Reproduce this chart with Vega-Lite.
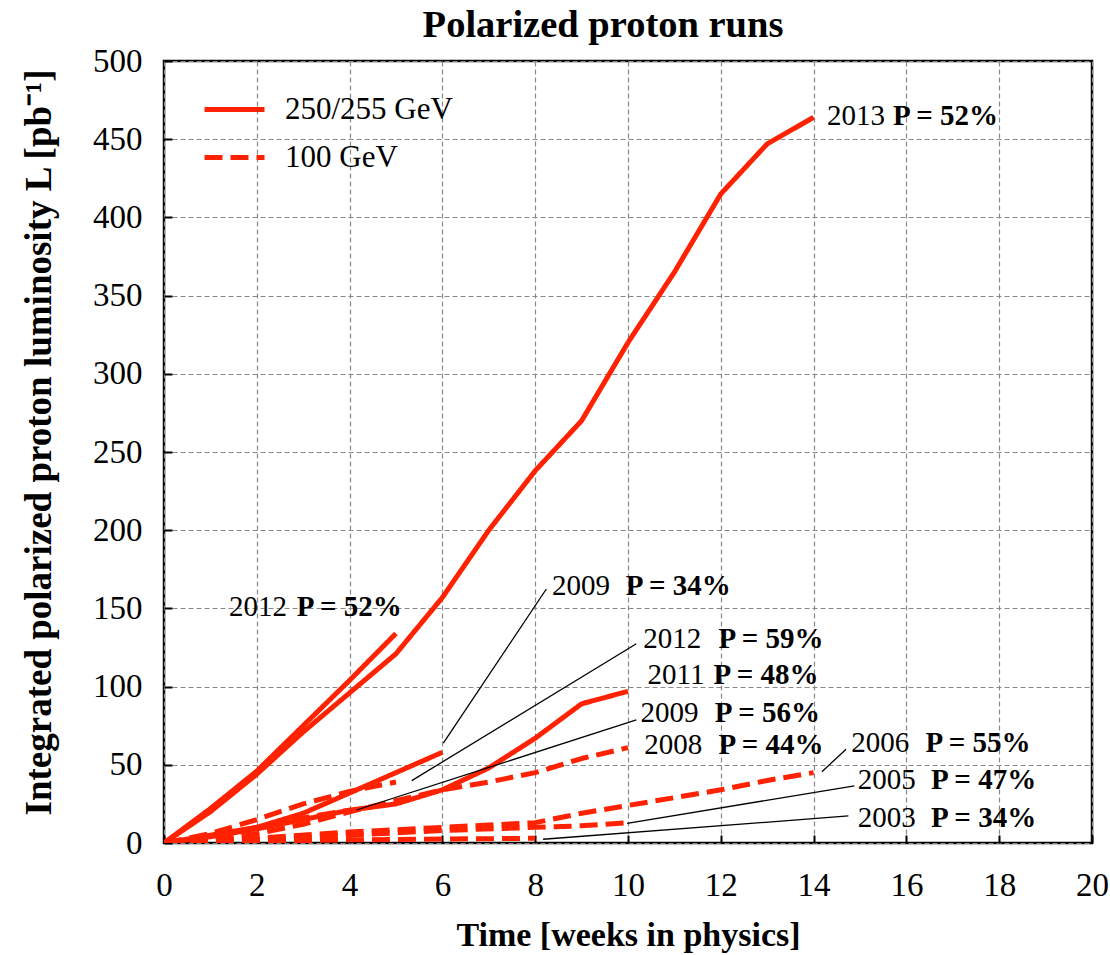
{
  "$schema": "https://vega.github.io/schema/vega-lite/v6.json",
  "width": 928,
  "height": 782,
  "autosize": "none",
  "padding": {"left": 164, "top": 61, "right": 18, "bottom": 112},
  "background": "white",
  "title": {"text": "Polarized proton runs", "font": "Liberation Serif", "fontSize": 38.5, "fontWeight": "bold", "color": "black", "anchor": "middle", "dx": -25, "offset": 0},
  "config": {
    "view": {"stroke": "black", "strokeWidth": 2.5},
    "axis": {"labelFont": "Liberation Serif", "titleFont": "Liberation Serif", "labelColor": "black", "titleColor": "black", "grid": true, "gridDash": [5, 3], "gridColor": "#8a8a8a", "gridWidth": 1.2, "domain": false, "tickColor": "black", "tickWidth": 2}
  },
  "datasets": {
    "runs": [
      {"run": "2013", "energy": "250/255 GeV", "week": 0, "L": 0},
      {"run": "2013", "energy": "250/255 GeV", "week": 1, "L": 20},
      {"run": "2013", "energy": "250/255 GeV", "week": 2, "L": 44},
      {"run": "2013", "energy": "250/255 GeV", "week": 3, "L": 71},
      {"run": "2013", "energy": "250/255 GeV", "week": 4, "L": 96},
      {"run": "2013", "energy": "250/255 GeV", "week": 5, "L": 121},
      {"run": "2013", "energy": "250/255 GeV", "week": 6, "L": 157},
      {"run": "2013", "energy": "250/255 GeV", "week": 7, "L": 200},
      {"run": "2013", "energy": "250/255 GeV", "week": 8, "L": 238},
      {"run": "2013", "energy": "250/255 GeV", "week": 9, "L": 270},
      {"run": "2013", "energy": "250/255 GeV", "week": 10, "L": 320},
      {"run": "2013", "energy": "250/255 GeV", "week": 11, "L": 365},
      {"run": "2013", "energy": "250/255 GeV", "week": 12, "L": 415},
      {"run": "2013", "energy": "250/255 GeV", "week": 13, "L": 447},
      {"run": "2013", "energy": "250/255 GeV", "week": 14, "L": 464},
      {"run": "2012a", "energy": "250/255 GeV", "week": 0, "L": 0},
      {"run": "2012a", "energy": "250/255 GeV", "week": 1, "L": 22},
      {"run": "2012a", "energy": "250/255 GeV", "week": 2, "L": 46},
      {"run": "2012a", "energy": "250/255 GeV", "week": 3, "L": 75},
      {"run": "2012a", "energy": "250/255 GeV", "week": 4, "L": 104},
      {"run": "2012a", "energy": "250/255 GeV", "week": 5, "L": 134},
      {"run": "2009a", "energy": "250/255 GeV", "week": 0, "L": 0},
      {"run": "2009a", "energy": "250/255 GeV", "week": 1, "L": 5},
      {"run": "2009a", "energy": "250/255 GeV", "week": 2, "L": 10},
      {"run": "2009a", "energy": "250/255 GeV", "week": 3, "L": 19},
      {"run": "2009a", "energy": "250/255 GeV", "week": 4, "L": 32},
      {"run": "2009a", "energy": "250/255 GeV", "week": 5, "L": 45},
      {"run": "2009a", "energy": "250/255 GeV", "week": 6, "L": 58},
      {"run": "2011", "energy": "250/255 GeV", "week": 0, "L": 0},
      {"run": "2011", "energy": "250/255 GeV", "week": 1, "L": 4},
      {"run": "2011", "energy": "250/255 GeV", "week": 2, "L": 9},
      {"run": "2011", "energy": "250/255 GeV", "week": 3, "L": 15},
      {"run": "2011", "energy": "250/255 GeV", "week": 4, "L": 21},
      {"run": "2011", "energy": "250/255 GeV", "week": 5, "L": 25},
      {"run": "2011", "energy": "250/255 GeV", "week": 6, "L": 34},
      {"run": "2011", "energy": "250/255 GeV", "week": 7, "L": 48},
      {"run": "2011", "energy": "250/255 GeV", "week": 8, "L": 67},
      {"run": "2011", "energy": "250/255 GeV", "week": 9, "L": 89},
      {"run": "2011", "energy": "250/255 GeV", "week": 10, "L": 97},
      {"run": "2012b", "energy": "100 GeV", "week": 0, "L": 0},
      {"run": "2012b", "energy": "100 GeV", "week": 1, "L": 6},
      {"run": "2012b", "energy": "100 GeV", "week": 2, "L": 15},
      {"run": "2012b", "energy": "100 GeV", "week": 3, "L": 25},
      {"run": "2012b", "energy": "100 GeV", "week": 4, "L": 33},
      {"run": "2012b", "energy": "100 GeV", "week": 5, "L": 39},
      {"run": "2009b", "energy": "100 GeV", "week": 0, "L": 0},
      {"run": "2009b", "energy": "100 GeV", "week": 1, "L": 4},
      {"run": "2009b", "energy": "100 GeV", "week": 2, "L": 10},
      {"run": "2009b", "energy": "100 GeV", "week": 3, "L": 16},
      {"run": "2009b", "energy": "100 GeV", "week": 4, "L": 21},
      {"run": "2008", "energy": "100 GeV", "week": 0, "L": 0},
      {"run": "2008", "energy": "100 GeV", "week": 1, "L": 2},
      {"run": "2008", "energy": "100 GeV", "week": 2, "L": 6},
      {"run": "2008", "energy": "100 GeV", "week": 3, "L": 12},
      {"run": "2008", "energy": "100 GeV", "week": 4, "L": 20},
      {"run": "2008", "energy": "100 GeV", "week": 5, "L": 27},
      {"run": "2008", "energy": "100 GeV", "week": 6, "L": 34},
      {"run": "2008", "energy": "100 GeV", "week": 7, "L": 39},
      {"run": "2008", "energy": "100 GeV", "week": 8, "L": 45},
      {"run": "2008", "energy": "100 GeV", "week": 9, "L": 54},
      {"run": "2008", "energy": "100 GeV", "week": 10, "L": 61},
      {"run": "2006", "energy": "100 GeV", "week": 0, "L": 0},
      {"run": "2006", "energy": "100 GeV", "week": 2, "L": 3},
      {"run": "2006", "energy": "100 GeV", "week": 4, "L": 7},
      {"run": "2006", "energy": "100 GeV", "week": 6, "L": 10},
      {"run": "2006", "energy": "100 GeV", "week": 8, "L": 13},
      {"run": "2006", "energy": "100 GeV", "week": 9, "L": 19},
      {"run": "2006", "energy": "100 GeV", "week": 10, "L": 24},
      {"run": "2006", "energy": "100 GeV", "week": 11, "L": 29},
      {"run": "2006", "energy": "100 GeV", "week": 12, "L": 34},
      {"run": "2006", "energy": "100 GeV", "week": 13, "L": 40},
      {"run": "2006", "energy": "100 GeV", "week": 14, "L": 45},
      {"run": "2005", "energy": "100 GeV", "week": 0, "L": 0},
      {"run": "2005", "energy": "100 GeV", "week": 2, "L": 2},
      {"run": "2005", "energy": "100 GeV", "week": 4, "L": 5},
      {"run": "2005", "energy": "100 GeV", "week": 6, "L": 8},
      {"run": "2005", "energy": "100 GeV", "week": 8, "L": 10},
      {"run": "2005", "energy": "100 GeV", "week": 9, "L": 11},
      {"run": "2005", "energy": "100 GeV", "week": 10, "L": 13},
      {"run": "2003", "energy": "100 GeV", "week": 0, "L": 0},
      {"run": "2003", "energy": "100 GeV", "week": 2, "L": 1},
      {"run": "2003", "energy": "100 GeV", "week": 4, "L": 2},
      {"run": "2003", "energy": "100 GeV", "week": 6, "L": 2.5},
      {"run": "2003", "energy": "100 GeV", "week": 8, "L": 3}
    ],
    "labels": [
      {"year": "2013", "p": "P = 52%", "x": 14.29, "px": 15.71, "y": 465},
      {"year": "2012", "p": "P = 52%", "x": 1.40, "px": 2.86, "y": 151},
      {"year": "2009", "p": "P = 34%", "x": 8.36, "px": 9.95, "y": 164.5},
      {"year": "2012", "p": "P = 59%", "x": 10.33, "px": 11.95, "y": 130.6},
      {"year": "2011", "p": "P = 48%", "x": 10.42, "px": 11.84, "y": 107.6},
      {"year": "2009", "p": "P = 56%", "x": 10.27, "px": 11.87, "y": 83.4},
      {"year": "2008", "p": "P = 44%", "x": 10.35, "px": 11.95, "y": 62.7},
      {"year": "2006", "p": "P = 55%", "x": 14.81, "px": 16.41, "y": 64.2},
      {"year": "2005", "p": "P = 47%", "x": 14.95, "px": 16.53, "y": 40.3},
      {"year": "2003", "p": "P = 34%", "x": 14.95, "px": 16.53, "y": 16.2}
    ],
    "leaders": [
      {"x1": 8.24, "y1": 162.4, "x2": 6.02, "y2": 63.8},
      {"x1": 10.18, "y1": 127.4, "x2": 5.34, "y2": 39.9},
      {"x1": 10.18, "y1": 78.7, "x2": 4.15, "y2": 21.1},
      {"x1": 14.7, "y1": 60, "x2": 14.18, "y2": 45.6},
      {"x1": 14.88, "y1": 36.5, "x2": 9.98, "y2": 12.6},
      {"x1": 14.75, "y1": 17.3, "x2": 8.17, "y2": 2.4}
    ]
  },
  "layer": [
    {
      "data": {"name": "runs"},
      "mark": {"type": "line", "color": "#ff2200", "strokeWidth": 5, "strokeCap": "butt", "strokeJoin": "round", "clip": true},
      "encoding": {
        "x": {"field": "week", "type": "quantitative", "scale": {"domain": [0, 20], "nice": false},
          "axis": {"values": [0, 2, 4, 6, 8, 10, 12, 14, 16, 18, 20], "title": "Time [weeks in physics]", "labelFont": "Liberation Serif", "titleFont": "Liberation Serif", "labelFontSize": 33, "titleFontSize": 34, "titleFontWeight": "bold", "tickSize": -8, "labelPadding": 34, "titlePadding": 16, "labelFlush": false}},
        "y": {"field": "L", "type": "quantitative", "scale": {"domain": [0, 500], "nice": false},
          "axis": {"values": [0, 50, 100, 150, 200, 250, 300, 350, 400, 450, 500], "title": "Integrated polarized proton luminosity L [pb⁻¹]", "labelFont": "Liberation Serif", "titleFont": "Liberation Serif", "labelFontSize": 33, "titleFontSize": 37, "titleFontWeight": "bold", "tickSize": -8, "labelPadding": 30, "titlePadding": 34, "titleY": 381, "labelFlush": false, "titleLimit": 900}},
        "detail": {"field": "run"},
        "strokeDash": {"field": "energy", "type": "nominal",
          "scale": {"domain": ["250/255 GeV", "100 GeV"], "range": [[1, 0], [18, 8]]},
          "legend": {"orient": "none", "legendX": 38, "legendY": 16, "title": null, "labelFont": "Liberation Serif", "labelFontSize": 31, "labelColor": "black", "labelLimit": 0, "symbolType": "stroke", "symbolSize": 3600, "symbolStrokeWidth": 5, "symbolStrokeColor": "#ff2200", "labelOffset": 18, "rowPadding": -22}}
      }
    },
    {
      "data": {"name": "leaders"},
      "mark": {"type": "rule", "color": "black", "strokeWidth": 1.3},
      "encoding": {
        "x": {"field": "x1", "type": "quantitative"},
        "y": {"field": "y1", "type": "quantitative"},
        "x2": {"field": "x2"},
        "y2": {"field": "y2"}
      }
    },
    {
      "data": {"name": "labels"},
      "mark": {"type": "text", "font": "Liberation Serif", "fontSize": 29, "align": "left", "baseline": "middle", "color": "black"},
      "encoding": {
        "x": {"field": "x", "type": "quantitative"},
        "y": {"field": "y", "type": "quantitative"},
        "text": {"field": "year"}
      }
    },
    {
      "data": {"name": "labels"},
      "mark": {"type": "text", "font": "Liberation Serif", "fontSize": 29, "fontWeight": "bold", "align": "left", "baseline": "middle", "color": "black"},
      "encoding": {
        "x": {"field": "px", "type": "quantitative"},
        "y": {"field": "y", "type": "quantitative"},
        "text": {"field": "p"}
      }
    }
  ]
}
